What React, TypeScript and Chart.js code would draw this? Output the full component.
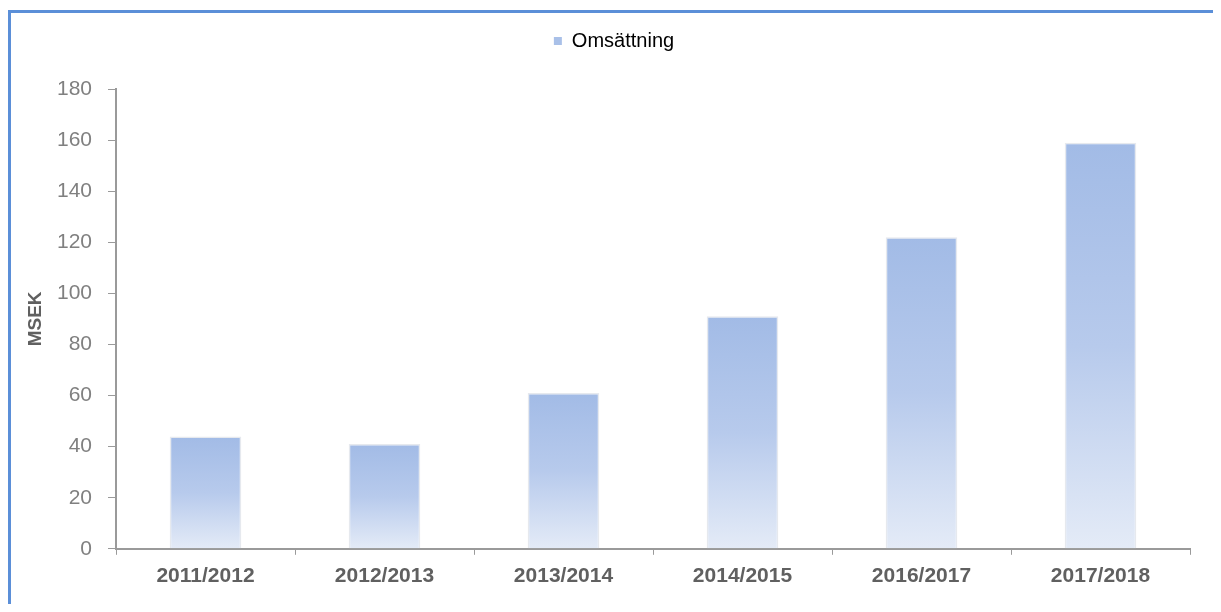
import React, { useEffect, useRef } from "react";
import { Chart, registerables } from "chart.js";

Chart.register(...registerables);

const categories = ["2011/2012", "2012/2013", "2013/2014", "2014/2015", "2016/2017", "2017/2018"];
const omsattning = [44, 41, 61, 91, 122, 159];
const seriesLabel = "Omsättning";
const yTitle = "MSEK";

export default function App() {
  const ref = useRef<HTMLCanvasElement | null>(null);

  useEffect(() => {
    const canvas = ref.current;
    if (!canvas) return;

    const legendMargin = {
      id: "legendMargin",
      beforeInit(chart: any) {
        const orig = chart.legend.fit;
        chart.legend.fit = function () {
          orig.bind(chart.legend)();
          this.height += 28;
        };
      },
    };

    const chart = new Chart(canvas, {
      type: "bar",
      data: {
        labels: categories,
        datasets: [
          {
            label: seriesLabel,
            data: omsattning,
            backgroundColor: (ctx: any) => {
              const c = ctx.chart;
              const area = c.chartArea;
              const ys = c.scales && c.scales.y;
              if (!area || !ys || ctx.raw === undefined) return "#b4c7ea";
              const top = ys.getPixelForValue(ctx.raw);
              const base = ys.getPixelForValue(0);
              const g = c.ctx.createLinearGradient(0, top, 0, base);
              g.addColorStop(0, "#a2bbe6");
              g.addColorStop(0.5, "#b7caec");
              g.addColorStop(1, "#e4ebf7");
              return g;
            },
            borderColor: "#e6e9ee",
            borderWidth: 1.5,
            categoryPercentage: 1,
            barPercentage: 0.4,
          },
        ],
      },
      options: {
        animation: false,
        responsive: false,
        maintainAspectRatio: false,
        layout: { padding: { top: 13, left: 30, right: 31, bottom: 6 } },
        plugins: {
          legend: {
            display: true,
            position: "top",
            labels: {
              boxWidth: 8,
              boxHeight: 8,
              padding: 10,
              color: "#404040",
              font: { family: "Liberation Sans, Arial, sans-serif", size: 20 },
              generateLabels: () => [
                {
                  text: seriesLabel,
                  fillStyle: "#a9c0e8",
                  strokeStyle: "#a9c0e8",
                  lineWidth: 0,
                  hidden: false,
                  datasetIndex: 0,
                },
              ],
            },
          },
          tooltip: { enabled: false },
        },
        scales: {
          x: {
            grid: {
              display: true,
              drawOnChartArea: false,
              drawTicks: true,
              tickLength: 6,
              color: "#9a9a9a",
              offset: true,
            },
            border: { display: true, color: "#9a9a9a", width: 2 },
            ticks: {
              color: "#606060",
              padding: 9,
              font: { family: "Liberation Sans, Arial, sans-serif", size: 21, weight: "bold" },
            },
          },
          y: {
            min: 0,
            max: 180,
            afterFit: (scale: any) => {
              scale.width = 78;
            },
            grid: {
              display: true,
              drawOnChartArea: false,
              drawTicks: true,
              tickLength: 8,
              color: "#9a9a9a",
            },
            border: { display: true, color: "#9a9a9a", width: 2 },
            ticks: {
              stepSize: 20,
              color: "#808080",
              padding: 16,
              font: { family: "Liberation Sans, Arial, sans-serif", size: 21 },
            },
            title: {
              display: true,
              text: yTitle,
              color: "#606060",
              padding: { top: -14, bottom: 0 },
              font: { family: "Liberation Sans, Arial, sans-serif", size: 19, weight: "bold" },
            },
          },
        },
      },
      plugins: [legendMargin],
    });

    return () => chart.destroy();
  }, []);

  return (
    <div style={{ position: "relative", width: 1213, height: 596, overflow: "hidden", background: "#fff" }}>
      <div
        style={{
          position: "absolute",
          left: 0,
          top: 2,
          width: 1300,
          height: 700,
          borderTop: "3px solid #5b8fd8",
          borderLeft: "3px solid #5b8fd8",
          boxSizing: "border-box",
        }}
      />
      <canvas ref={ref} width={1213} height={596} style={{ position: "absolute", left: 0, top: 0 }} />
    </div>
  );
}
